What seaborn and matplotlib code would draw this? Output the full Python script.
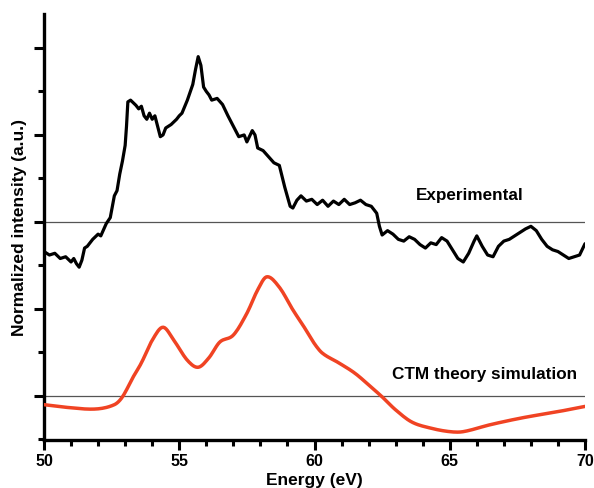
import matplotlib
matplotlib.use("Agg")
import matplotlib.pyplot as plt
import seaborn as sns
import numpy as np
import pandas as pd
from matplotlib.ticker import MultipleLocator

# Experimental spectrum (offset baseline at 2)
exp_x = [50.0, 50.2, 50.4, 50.6, 50.8, 51.0, 51.1, 51.2, 51.3, 51.4, 51.5, 51.6, 51.8, 52.0, 52.1,
         52.3, 52.45, 52.6, 52.7, 52.8, 52.9, 53.0, 53.05, 53.1, 53.2, 53.3, 53.4, 53.5, 53.6, 53.7,
         53.8, 53.9, 54.0, 54.1, 54.2, 54.3, 54.4, 54.5, 54.7, 54.9, 55.0, 55.1, 55.3, 55.5, 55.6,
         55.7, 55.8, 55.9, 56.0, 56.1, 56.2, 56.4, 56.6, 56.8, 57.0, 57.2, 57.4, 57.5, 57.7, 57.8,
         57.9, 58.1, 58.3, 58.5, 58.7, 58.9, 59.1, 59.2, 59.35, 59.5, 59.7, 59.9, 60.1, 60.3, 60.5,
         60.7, 60.9, 61.1, 61.3, 61.5, 61.7, 61.9, 62.1, 62.3, 62.4, 62.5, 62.7, 62.9, 63.1, 63.3,
         63.5, 63.7, 63.9, 64.1, 64.3, 64.5, 64.7, 64.9, 65.1, 65.3, 65.5, 65.7, 65.9, 66.0, 66.2,
         66.4, 66.6, 66.8, 67.0, 67.2, 67.4, 67.6, 67.8, 68.0, 68.2, 68.4, 68.6, 68.8, 69.0, 69.2,
         69.4, 69.6, 69.8, 70.0]
exp_y = [1.66, 1.62, 1.64, 1.58, 1.60, 1.54, 1.58, 1.52, 1.48, 1.56, 1.70, 1.72, 1.80, 1.86, 1.84,
         1.98, 2.05, 2.30, 2.36, 2.55, 2.70, 2.88, 3.10, 3.38, 3.40, 3.37, 3.34, 3.30, 3.33, 3.22,
         3.18, 3.25, 3.18, 3.22, 3.10, 2.98, 3.00, 3.08, 3.12, 3.18, 3.22, 3.25, 3.40, 3.58, 3.75,
         3.90, 3.80, 3.55, 3.50, 3.46, 3.40, 3.42, 3.35, 3.22, 3.10, 2.98, 3.00, 2.92, 3.05, 3.00,
         2.85, 2.82, 2.75, 2.68, 2.65, 2.40, 2.18, 2.16, 2.25, 2.30, 2.24, 2.26, 2.20, 2.25, 2.18,
         2.24, 2.20, 2.26, 2.20, 2.22, 2.25, 2.20, 2.18, 2.10, 1.95, 1.85, 1.90, 1.86, 1.80, 1.78,
         1.83, 1.80, 1.74, 1.70, 1.76, 1.74, 1.82, 1.78, 1.68, 1.58, 1.54, 1.64, 1.78, 1.84, 1.72,
         1.62, 1.60, 1.72, 1.78, 1.80, 1.84, 1.88, 1.92, 1.95, 1.90, 1.80, 1.72, 1.68, 1.66, 1.62,
         1.58, 1.60, 1.62, 1.75]

# CTM theory simulation (baseline at 0)
ctm_x = [50.0, 50.8, 51.9, 52.6, 52.9, 53.3, 53.6, 54.0, 54.4, 54.8, 55.3, 55.7, 56.1, 56.5,
         57.0, 57.5, 57.9, 58.24, 58.7, 59.2, 59.6, 60.0, 60.3, 60.9, 61.5, 62.1, 62.5, 63.0,
         63.6, 64.3, 65.0, 65.5, 66.5, 67.7, 69.0, 70.0]
ctm_y = [-0.10, -0.13, -0.15, -0.10, -0.01, 0.22, 0.38, 0.64, 0.79, 0.64, 0.41, 0.33, 0.44, 0.62,
         0.70, 0.95, 1.22, 1.37, 1.25, 0.99, 0.80, 0.60, 0.49, 0.38, 0.26, 0.10, -0.01, -0.16,
         -0.30, -0.37, -0.41, -0.41, -0.33, -0.25, -0.18, -0.12]

baselines = [0, 2]
x_ticks = [50, 55, 60, 65, 70]

sns.set_theme(style="ticks")
plt.rcParams['font.family'] = ['Liberation Sans', 'DejaVu Sans']
plt.rcParams.update({"text.color": "black", "axes.labelcolor": "black",
                     "xtick.color": "black", "ytick.color": "black",
                     "axes.edgecolor": "black"})

fig = plt.figure(figsize=(5.94, 4.88), dpi=100)
ax = fig.add_axes([44/594, 48/488, (585-44)/594, (440-14)/488])


def hermite(xp, yp, xq):
    xp = np.asarray(xp); yp = np.asarray(yp)
    n = len(xp)
    m = np.zeros(n)
    m[1:-1] = (yp[2:] - yp[:-2]) / (xp[2:] - xp[:-2])
    m[0] = (yp[1] - yp[0]) / (xp[1] - xp[0])
    m[-1] = (yp[-1] - yp[-2]) / (xp[-1] - xp[-2])
    idx = np.clip(np.searchsorted(xp, xq) - 1, 0, n - 2)
    h = xp[idx + 1] - xp[idx]
    t = (xq - xp[idx]) / h
    h00 = 2*t**3 - 3*t**2 + 1
    h10 = t**3 - 2*t**2 + t
    h01 = -2*t**3 + 3*t**2
    h11 = t**3 - t**2
    return h00*yp[idx] + h10*h*m[idx] + h01*yp[idx+1] + h11*h*m[idx+1]


xs = np.linspace(50, 70, 400)
smooth_df = pd.DataFrame({"x": xs, "y": hermite(ctm_x, ctm_y, xs)})

for b in baselines:
    ax.axhline(b, color="#555555", lw=0.9, zorder=1)

exp_df = pd.DataFrame({"x": exp_x, "y": exp_y})
sns.lineplot(data=exp_df, x="x", y="y", ax=ax, color="black", lw=2.3, zorder=3)
sns.lineplot(data=smooth_df, x="x", y="y", ax=ax, color="#F04323", lw=2.5, zorder=3)

ax.set_xlim(50, 70)
ax.set_ylim(-0.506, 4.39)
ax.set_xticks(x_ticks)
ax.set_xticklabels([str(t) for t in x_ticks], fontweight="bold", fontsize=11.5)
ax.xaxis.set_minor_locator(MultipleLocator(1))
ax.yaxis.set_major_locator(MultipleLocator(1))
ax.yaxis.set_minor_locator(MultipleLocator(0.5))
ax.set_yticklabels([])
ax.tick_params(axis="both", which="major", length=7, width=2.2, direction="out", color="black")
ax.tick_params(axis="both", which="minor", length=4, width=2.2, direction="out", color="black")
ax.tick_params(axis="x", pad=3)

for s in ["top", "right"]:
    ax.spines[s].set_visible(False)
for s in ["left", "bottom"]:
    ax.spines[s].set_linewidth(2.4)
    ax.spines[s].set_color("black")

ax.set_xlabel("Energy (eV)", fontweight="bold", fontsize=12.5, labelpad=3)
ax.set_ylabel("Normalized intensity (a.u.)", fontweight="bold", fontsize=12.5, labelpad=2)

ax.text(65.75, 2.3, "Experimental", fontweight="bold", fontsize=12.3, ha="center", va="center")
ax.text(66.27, 0.25, "CTM theory simulation", fontweight="bold", fontsize=12.3, ha="center", va="center")

fig.savefig("out.png", dpi=100)
